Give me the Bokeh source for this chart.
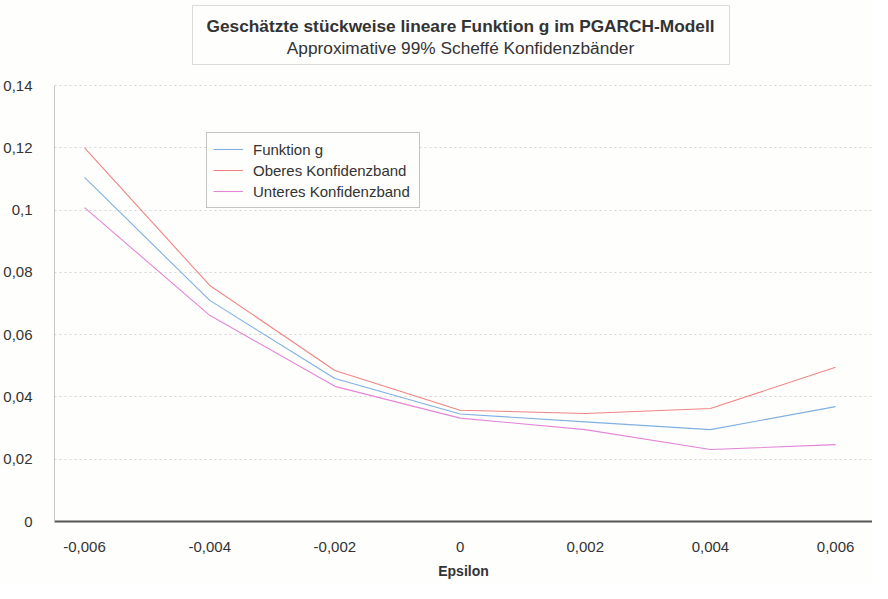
from bokeh.plotting import figure
from bokeh.models import (FixedTicker, CustomJSTickFormatter, Legend, LegendItem,
                          BoxAnnotation, Label, Range1d)
from bokeh.embed import file_html
from bokeh.resources import INLINE

# ---- data ----
epsilon = [-0.006, -0.004, -0.002, 0.0, 0.002, 0.004, 0.006]
funktion_g = [0.1105, 0.0710, 0.0459, 0.0345, 0.0320, 0.0295, 0.0369]
oberes_band = [0.1200, 0.0758, 0.0485, 0.0357, 0.0347, 0.0363, 0.0495]
unteres_band = [0.1008, 0.0662, 0.0434, 0.0332, 0.0295, 0.0231, 0.0247]
y_ticks = [0.0, 0.02, 0.04, 0.06, 0.08, 0.10, 0.12, 0.14]
x_ticks = [-0.006, -0.004, -0.002, 0.0, 0.002, 0.004, 0.006]
title_text = "Geschätzte stückweise lineare Funktion g im PGARCH-Modell"
subtitle_text = "Approximative 99% Scheffé Konfidenzbänder"
series_names = ["Funktion g", "Oberes Konfidenzband", "Unteres Konfidenzband"]
series_colors = ["#7fb0e2", "#f08585", "#e485d8"]

FONT = "Liberation Sans"

# frame extends up to the top so the title box can live inside it;
# the y axis line is bounded to 0..0.14
p = figure(width=872, height=583, output_backend="svg", toolbar_location=None,
           x_range=Range1d(-0.00648, 0.00659), y_range=Range1d(0, 0.1673),
           min_border_left=54, min_border_right=0, min_border_top=0,
           min_border_bottom=62)
p.background_fill_color = "#fefefc"
p.border_fill_color = "#fefefc"
p.outline_line_color = None

fmt = CustomJSTickFormatter(code="""
var s = (Math.round(tick*100000)/100000).toString();
return s.replace('.', ',');
""")

# axes
p.xaxis.ticker = FixedTicker(ticks=x_ticks)
p.yaxis.ticker = FixedTicker(ticks=y_ticks)
p.xaxis.formatter = fmt
p.yaxis.formatter = fmt
for ax in (p.xaxis, p.yaxis):
    ax.major_tick_line_color = None
    ax.minor_tick_line_color = None
    ax.major_tick_in = 0
    ax.major_tick_out = 0
    ax.minor_tick_in = 0
    ax.minor_tick_out = 0
    ax.major_label_text_font = FONT
    ax.major_label_text_font_size = "15px"
    ax.major_label_text_color = "#333333"
p.yaxis.bounds = (0, 0.14)
p.xaxis.axis_line_color = "#555555"
p.xaxis.axis_line_width = 2
p.yaxis.axis_line_color = "#c8c8c8"
p.yaxis.axis_line_width = 1
p.xaxis.major_label_standoff = 20
p.yaxis.major_label_standoff = 22
p.xaxis.axis_label = "Epsilon"
p.xaxis.axis_label_text_font = FONT
p.xaxis.axis_label_text_font_style = "bold"
p.xaxis.axis_label_text_font_size = "14px"
p.xaxis.axis_label_text_color = "#333333"
p.xaxis.axis_label_standoff = 8

# grid
p.xgrid.grid_line_color = None
p.ygrid.ticker = FixedTicker(ticks=y_ticks)
p.ygrid.grid_line_color = "#d6d6d6"
p.ygrid.grid_line_dash = "2 3"
p.ygrid.grid_line_width = 1

# lines
renderers = []
for vals, col in zip([funktion_g, oberes_band, unteres_band], series_colors):
    r = p.line(epsilon, vals, line_color=col, line_width=1.1)
    renderers.append(r)

legend = Legend(items=[LegendItem(label=n, renderers=[r]) for n, r in zip(series_names, renderers)],
                location=(152, 313))
legend.label_text_font = FONT
legend.label_text_font_size = "15px"
legend.label_text_color = "#333333"
legend.glyph_width = 30
legend.glyph_height = 20
legend.label_height = 20
legend.label_width = 160
legend.label_standoff = 10
legend.spacing = 1
legend.padding = 6
legend.margin = 0
legend.border_line_color = "#8a8a8a"
legend.border_line_width = 1
legend.background_fill_color = "#fefefc"
legend.background_fill_alpha = 1
p.add_layout(legend)

# title box
box = BoxAnnotation(left=138, right=675, bottom=457, top=516,
                    left_units="screen", right_units="screen",
                    bottom_units="screen", top_units="screen",
                    fill_color="#fefefc", fill_alpha=1,
                    line_color="#8a8a8a", line_width=1)
p.add_layout(box)
p.add_layout(Label(x=406, y=495.5, x_units="screen", y_units="screen", text=title_text,
                   text_align="center", text_baseline="middle", text_font=FONT,
                   text_font_style="bold", text_font_size="17.3px", text_color="#333333"))
p.add_layout(Label(x=406, y=474, x_units="screen", y_units="screen", text=subtitle_text,
                   text_align="center", text_baseline="middle", text_font=FONT,
                   text_font_size="17.3px", text_color="#333333"))

open("out.html", "w").write(file_html(p, INLINE))
